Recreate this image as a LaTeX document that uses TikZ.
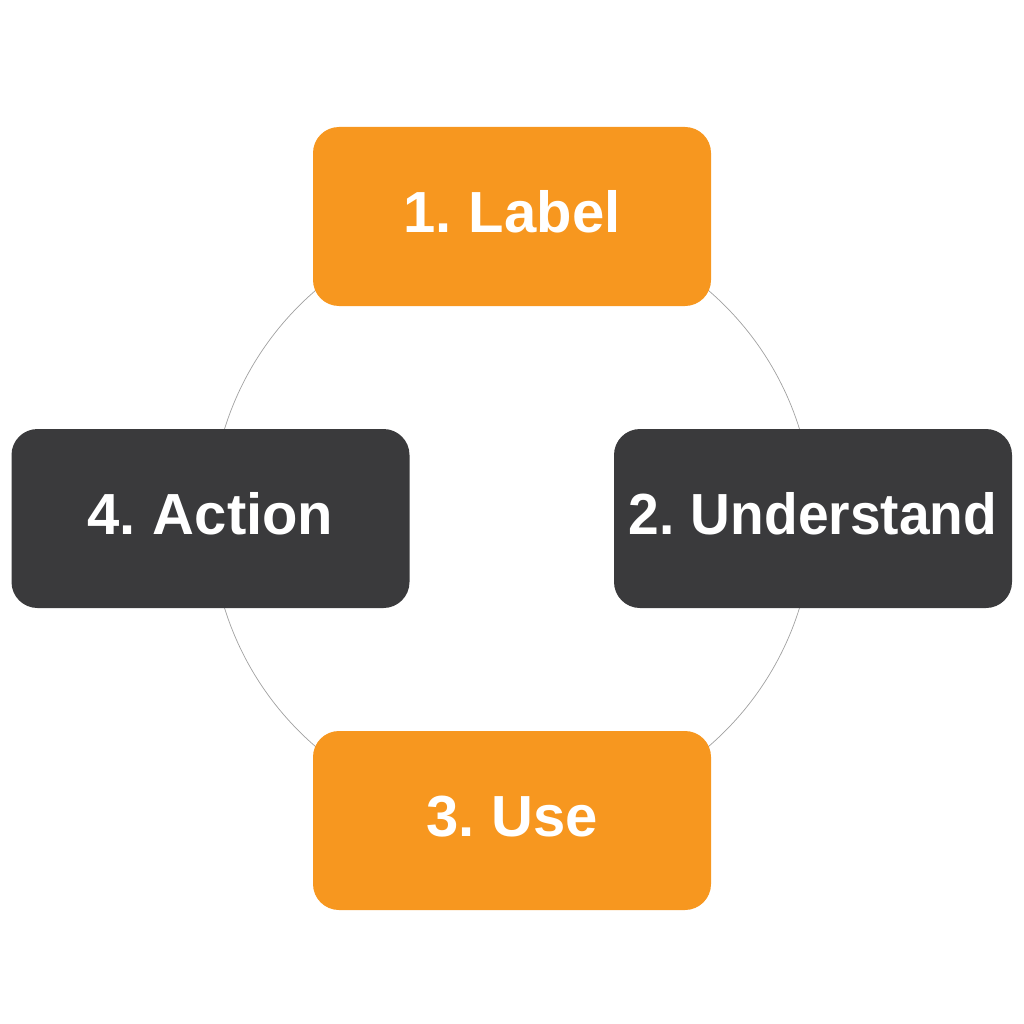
\documentclass[tikz,border=0pt]{standalone}
\usepackage{fontspec}
\setmainfont{Liberation Sans}
\definecolor{boxorange}{HTML}{F7971F}
\definecolor{boxdark}{HTML}{3A3A3C}
\definecolor{ringgray}{HTML}{A0A0A0}
\newcommand{\steptext}[1]{\raisebox{5pt}[0pt][0pt]{\spaceskip=0.2em\relax #1}}
\begin{document}
\begin{tikzpicture}[x=1pt,y=-1pt,
  stepbox/.style={rounded corners=26pt, minimum width=398pt, minimum height=179pt,
    inner sep=0pt, text=white, text height=41pt, text depth=0pt,
    font=\fontsize{58}{62}\selectfont\bfseries},
  orangebox/.style={stepbox, fill=boxorange},
  darkbox/.style={stepbox, fill=boxdark},
  ring/.style={draw=ringgray, line width=0.7pt}]
\useasboundingbox (0,0) rectangle (1024,1024);
\coordinate (c) at (512,518.5);
\draw[ring] (c) circle (301);
\node[orangebox] (lab) at (512,216.5) {\steptext{1. Label}};
\node[darkbox] (und) at (813,518.5) {\scalebox{0.95}[1]{\steptext{2. Understand}}};
\node[orangebox] (use) at (512,820.5) {\steptext{3. Use}};
\node[darkbox] (act) at (210.5,518.5) {\steptext{4. Action}};
\end{tikzpicture}
\end{document}
